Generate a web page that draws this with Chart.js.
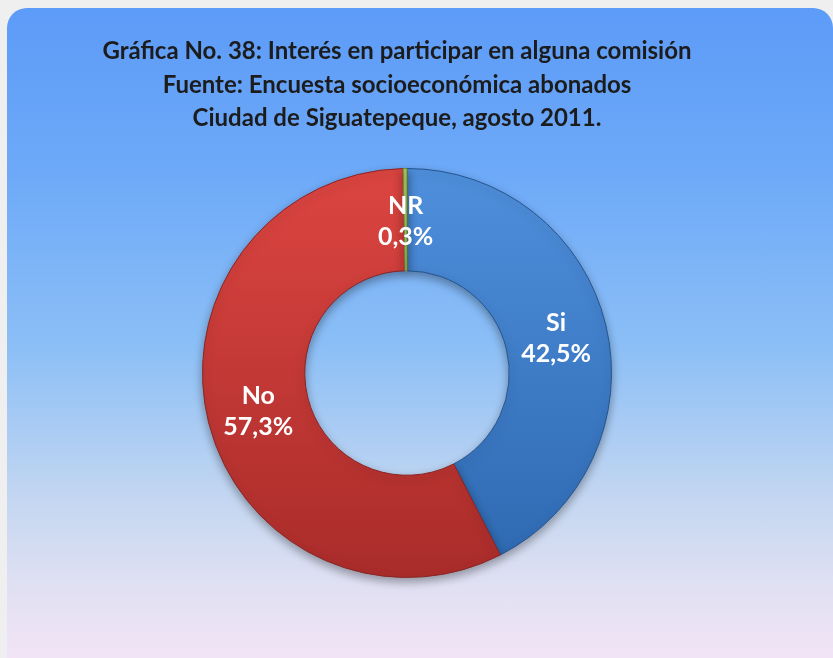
<!DOCTYPE html>
<html>
<head>
<meta charset="utf-8">
<title>Gráfica No. 38</title>
<script src="https://cdn.jsdelivr.net/npm/chart.js@4"></script>
<style>
  html, body {
    margin: 0;
    padding: 0;
    background: #efefef;
    overflow: hidden;
  }
  #card {
    position: absolute;
    left: 7px;
    top: 8px;
    width: 826px;
    height: 680px;
    border-radius: 20px;
    background: linear-gradient(
      #5c9bf8 0%,
      #6eaaf8 25%,
      #8cbff6 50%,
      #c3d6f1 72%,
      #e0e0f2 85%,
      #f9e6f8 100%
    );
  }
  #wrap {
    position: absolute;
    left: 0;
    top: 0;
    width: 833px;
    height: 658px;
  }
</style>
</head>
<body>
<div id="card"></div>
<div id="wrap"><canvas id="chart" width="833" height="658"></canvas></div>
<script>
const titleLines = [
  "Gráfica No. 38: Interés en participar en alguna comisión",
  "Fuente: Encuesta socioeconómica abonados",
  "Ciudad de Siguatepeque, agosto 2011.",
];
const categories = ["Si", "No", "NR"];
const percentages = [42.5, 57.3, 0.3];
const sliceColors = [
  ["#4f8fdc", "#2d68b0"],
  ["#dc4541", "#a92c2a"],
  ["#a6c45c", "#8aa84a"],
];
const borderColors = ["#24558f", "#8a2523", "#6f8a35"];

document.addEventListener("DOMContentLoaded", () => {
  drawChart();
});

function drawChart() {
  const ctx = document.getElementById("chart").getContext("2d");

  // vertical gradient per slice, like the bevelled office look
  function sliceFill(context) {
    const chart = context.chart;
    const area = chart.chartArea;
    if (!area) return sliceColors[context.dataIndex][0];
    const pair = sliceColors[context.dataIndex];
    const g = chart.ctx.createLinearGradient(0, area.top, 0, area.bottom);
    g.addColorStop(0, pair[0]);
    g.addColorStop(1, pair[1]);
    return g;
  }

  const titlePlugin = {
    id: "titleText",
    afterDraw(chart) {
      const c = chart.ctx;
      c.save();
      c.fillStyle = "#1c1c1c";
      c.font = "bold 24px Lato, 'Liberation Sans', sans-serif";
      c.textAlign = "center";
      c.textBaseline = "middle";
      const ys = [51, 85, 118];
      titleLines.forEach((line, i) => c.fillText(line, 397, ys[i]));
      c.restore();
    },
  };

  const shadowPlugin = {
    id: "sliceShadow",
    beforeDatasetsDraw(chart) {
      const c = chart.ctx;
      c.save();
      c.shadowColor = "rgba(0, 0, 0, 0.35)";
      c.shadowBlur = 10;
      c.shadowOffsetY = 4;
    },
    afterDatasetsDraw(chart) {
      chart.ctx.restore();
    },
  };

  const labelPlugin = {
    id: "sliceLabels",
    afterDatasetsDraw(chart) {
      const c = chart.ctx;
      const meta = chart.getDatasetMeta(0);
      c.save();
      c.fillStyle = "#ffffff";
      c.font = "bold 25px Lato, 'Liberation Sans', sans-serif";
      c.textAlign = "center";
      c.textBaseline = "middle";
      meta.data.forEach((arc, i) => {
        const pos = arc.tooltipPosition();
        const pct = percentages[i].toFixed(1).replace(".", ",") + "%";
        c.fillText(categories[i], pos.x, pos.y - 14);
        c.fillText(pct, pos.x, pos.y + 17);
      });
      c.restore();
    },
  };

  new Chart(ctx, {
    type: "doughnut",
    data: {
      labels: categories,
      datasets: [
        {
          data: percentages,
          backgroundColor: sliceFill,
          borderColor: borderColors,
          borderWidth: 1,
        },
      ],
    },
    options: {
      responsive: false,
      animation: false,
      cutout: "50%",
      layout: {
        padding: { top: 168, bottom: 80, left: 0, right: 19 },
      },
      plugins: {
        legend: { display: false },
        title: { display: false },
        tooltip: { enabled: false },
      },
    },
    plugins: [shadowPlugin, labelPlugin, titlePlugin],
  });
}
</script>
</body>
</html>
